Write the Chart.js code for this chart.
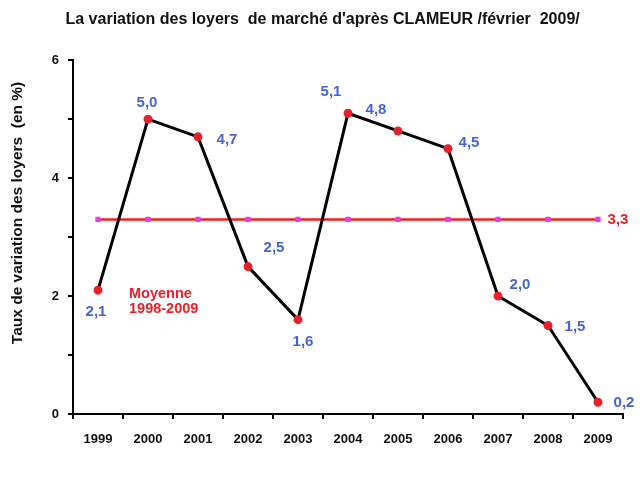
<!DOCTYPE html>
<html>
<head>
<meta charset="utf-8">
<script src="https://cdn.jsdelivr.net/npm/chart.js@4"></script>
<style>
  html, body { margin: 0; padding: 0; background: #fff; }
  #wrap { width: 640px; height: 480px; }
</style>
</head>
<body>
<div id="wrap"><canvas id="loyers" width="640" height="480"></canvas></div>
<script>
const years = ['1999', '2000', '2001', '2002', '2003', '2004', '2005', '2006', '2007', '2008', '2009'];
const variation = [2.1, 5.0, 4.7, 2.5, 1.6, 5.1, 4.8, 4.5, 2.0, 1.5, 0.2];
const moyenne = 3.3;
const moyenneLabel = ['Moyenne', '1998-2009'];
const yTicks = [0, 2, 4, 6];

// label offsets in px from each point (layout only)
const labelShift = [[-2, 22], [-1, -16], [29, 3], [26, -19], [5, 22], [-17, -21],
  [-22, -21], [21, -6], [22, -11], [27, 1], [26, 1]];

const fmt = v => v.toFixed(1).replace('.', ',');
const FONT = '"Liberation Sans", Arial, sans-serif';

const labelsPlugin = {
  id: 'labels',
  afterDatasetsDraw(chart) {
    const ctx = chart.ctx;
    const x = chart.scales.x;
    const y = chart.scales.y;
    ctx.save();
    ctx.textAlign = 'center';
    ctx.textBaseline = 'middle';
    ctx.font = 'bold 15px ' + FONT;
    ctx.fillStyle = '#4763d6';
    variation.forEach((v, i) => {
      ctx.fillText(fmt(v), x.getPixelForValue(i) + labelShift[i][0], y.getPixelForValue(v) + labelShift[i][1]);
    });
    ctx.fillStyle = '#e8202a';
    ctx.fillText(fmt(moyenne), x.getPixelForValue(years.length - 1) + 20, y.getPixelForValue(moyenne));
    ctx.textAlign = 'left';
    ctx.font = 'bold 14.5px ' + FONT;
    ctx.fillText(moyenneLabel[0], x.getPixelForValue(0.62), y.getPixelForValue(2.04));
    ctx.fillText(moyenneLabel[1], x.getPixelForValue(0.62), y.getPixelForValue(1.78));
    ctx.restore();
  }
};

new Chart(document.getElementById('loyers'), {
  type: 'line',
  data: {
    labels: years,
    datasets: [{
      label: 'Variation',
      data: variation,
      borderColor: '#000',
      borderWidth: 3,
      pointBackgroundColor: '#e8202a',
      pointBorderColor: '#e8202a',
      pointRadius: 3,
      tension: 0,
      order: 1
    }, {
      label: 'Moyenne',
      data: years.map(() => moyenne),
      borderColor: '#ee2020',
      borderWidth: 2.5,
      pointStyle: 'rect',
      pointRadius: 2,
      pointBackgroundColor: '#e040e8',
      pointBorderColor: '#e040e8',
      order: 2
    }]
  },
  options: {
    responsive: false,
    animation: false,
    layout: { padding: { left: 0, right: 17, top: 0, bottom: 0 } },
    plugins: {
      legend: { display: false },
      tooltip: { enabled: false },
      title: {
        display: true,
        text: "     La variation des loyers  de marché d'après CLAMEUR /février  2009/",
        color: '#111',
        font: { family: FONT, size: 16, weight: 'bold' },
        padding: { top: 10, bottom: 31 }
      }
    },
    scales: {
      x: {
        offset: true,
        grid: { display: true, drawOnChartArea: false, offset: true, color: '#000', lineWidth: 2, tickLength: 5 },
        border: { color: '#000', width: 2 },
        ticks: {
          color: '#111',
          padding: 13,
          font: { family: FONT, size: 13, weight: 'bold' }
        },
        afterFit(s) { s.height = 66; }
      },
      y: {
        min: 0,
        max: 6,
        grid: { display: true, drawOnChartArea: false, color: '#000', lineWidth: 2, tickLength: 5 },
        border: { color: '#000', width: 2 },
        ticks: {
          stepSize: 1,
          color: '#111',
          padding: 9,
          font: { family: FONT, size: 13, weight: 'bold' },
          callback: v => yTicks.includes(v) ? String(v) : ''
        },
        title: {
          display: true,
          text: 'Taux de variation des loyers  (en %)     ',
          align: 'end',
          color: '#111',
          font: { family: FONT, size: 15.5, weight: 'bold' },
          padding: { top: 8, bottom: 0 }
        },
        afterFit(s) { s.width = 73; }
      }
    }
  },
  plugins: [labelsPlugin]
});
</script>
</body>
</html>
